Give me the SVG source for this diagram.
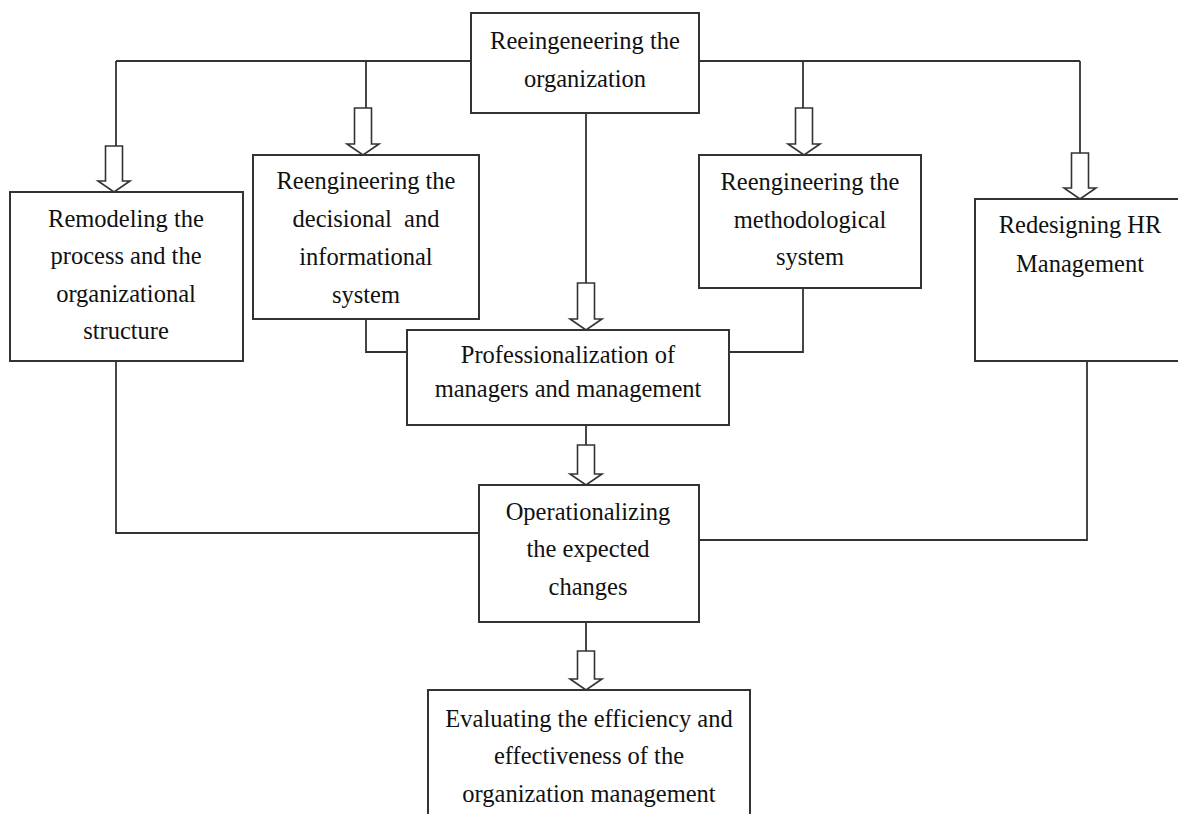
<svg xmlns="http://www.w3.org/2000/svg" width="1178" height="814" viewBox="0 0 1178 814">
<style>
.box{fill:#fff;stroke:#333;stroke-width:2}
.conn{fill:none;stroke:#333;stroke-width:1.8}
.arrow{fill:#fff;stroke:#333;stroke-width:1.6;stroke-linejoin:miter}
text{font-family:"Liberation Serif","Times New Roman",serif;font-size:24.5px;fill:#111;text-anchor:middle;white-space:pre}
</style>
<rect width="1178" height="814" fill="#fff"/>
<g id="connectors">
<path class="conn" d="M116 61H471M699 61H1080"/>
<path class="conn" d="M116 61V146M366 61V108M803 61V108M1080 61V153"/>
<path class="conn" d="M586 113V283"/>
<path class="conn" d="M366 319V352H407"/>
<path class="conn" d="M729 352H803V288"/>
<path class="conn" d="M586 425V445"/>
<path class="conn" d="M116 361V533H479"/>
<path class="conn" d="M1087 361V540H699"/>
<path class="conn" d="M586 622V651"/>
<polygon class="arrow" points="105.5,146 122.5,146 122.5,181 130,181 114,192 98,181 105.5,181"/>
<polygon class="arrow" points="354.5,108 371.5,108 371.5,144 379,144 363,155 347,144 354.5,144"/>
<polygon class="arrow" points="577.5,283 594.5,283 594.5,319 602,319 586,330 570,319 577.5,319"/>
<polygon class="arrow" points="795.5,108 812.5,108 812.5,144 820,144 804,155 788,144 795.5,144"/>
<polygon class="arrow" points="1071.5,153 1088.5,153 1088.5,188 1096,188 1080,199 1064,188 1071.5,188"/>
<polygon class="arrow" points="577.5,445 594.5,445 594.5,474 602,474 586,485 570,474 577.5,474"/>
<polygon class="arrow" points="577.5,651 594.5,651 594.5,679 602,679 586,690 570,679 577.5,679"/>
</g>
<g id="node-reorg">
<rect class="box" x="471" y="13" width="228" height="100"/>
<text x="585" y="49">Reeingeneering the</text>
<text x="585" y="87">organization</text>
</g>
<g id="node-remodel">
<rect class="box" x="10" y="192" width="233" height="169"/>
<text x="126" y="227">Remodeling the</text>
<text x="126" y="264">process and the</text>
<text x="126" y="302">organizational</text>
<text x="126" y="339">structure</text>
</g>
<g id="node-decisional">
<rect class="box" x="253" y="155" width="226" height="164"/>
<text x="366" y="189">Reengineering the</text>
<text x="366" y="227" xml:space="preserve">decisional  and</text>
<text x="366" y="265">informational</text>
<text x="366" y="303">system</text>
</g>
<g id="node-methodological">
<rect class="box" x="699" y="155" width="222" height="133"/>
<text x="810" y="190">Reengineering the</text>
<text x="810" y="228">methodological</text>
<text x="810" y="265">system</text>
</g>
<g id="node-hr">
<rect class="box" x="975" y="199" width="220" height="162"/>
<text x="1080" y="233">Redesigning HR</text>
<text x="1080" y="272">Management</text>
</g>
<g id="node-prof">
<rect class="box" x="407" y="330" width="322" height="95"/>
<text x="568" y="363">Professionalization of</text>
<text x="568" y="397">managers and management</text>
</g>
<g id="node-oper">
<rect class="box" x="479" y="485" width="220" height="137"/>
<text x="588" y="520">Operationalizing</text>
<text x="588" y="557">the expected</text>
<text x="588" y="595">changes</text>
</g>
<g id="node-eval">
<rect class="box" x="428" y="690" width="322" height="140"/>
<text x="589" y="727">Evaluating the efficiency and</text>
<text x="589" y="764">effectiveness of the</text>
<text x="589" y="802">organization management</text>
</g>
</svg>
